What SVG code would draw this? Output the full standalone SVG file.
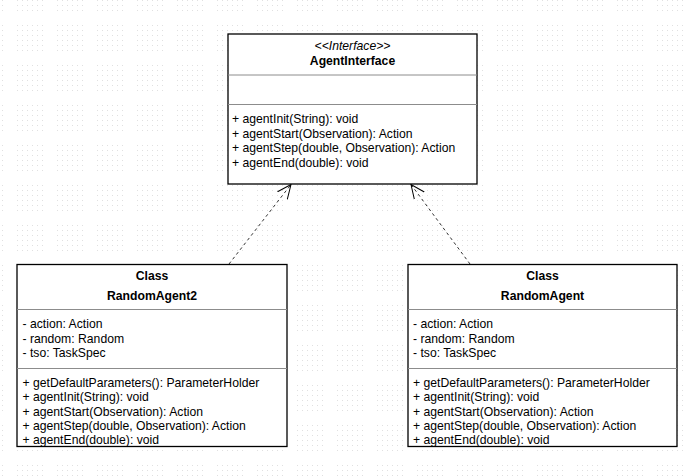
<svg xmlns="http://www.w3.org/2000/svg" width="694" height="476" viewBox="0 0 694 476">
<defs>
<pattern id="dot" width="5" height="5" patternUnits="userSpaceOnUse">
<rect x="2" y="2" width="1" height="1" fill="#e0e0e0"/>
</pattern>
<pattern id="grid" width="40" height="40" patternUnits="userSpaceOnUse" x="15" y="23">
<rect x="0" y="0" width="30" height="30" fill="url(#dot)"/>
</pattern>
<marker id="open" markerUnits="userSpaceOnUse" markerWidth="20" markerHeight="20" refX="14" refY="7" orient="auto">
<path d="M0,0.8 L14,7 L0,13.2" fill="none" stroke="#000" stroke-width="1"/>
</marker>
<style>
.box{fill:#fff;stroke:#000;stroke-width:1.3}
.div{stroke:#8c8c8c;stroke-width:1}
text{font-family:"Liberation Sans",Arial,sans-serif;font-size:12.2px;fill:#000}
.t{font-weight:bold;text-anchor:middle}
.st{font-style:italic;text-anchor:middle}
.edge{fill:none;stroke:#333;stroke-width:1;stroke-dasharray:3,3;marker-end:url(#open)}
</style>
</defs>
<rect width="694" height="476" fill="#fff"/>
<rect width="694" height="476" fill="url(#grid)"/>

<g id="connectors">
<line class="edge" x1="229" y1="264" x2="291" y2="184.5"/>
<line class="edge" x1="470" y1="264" x2="411" y2="184.5"/>
</g>

<g id="AgentInterface">
<rect class="box" x="228" y="34" width="249" height="150"/>
<line class="div" x1="228" y1="75" x2="477" y2="75"/>
<line class="div" x1="228" y1="104.5" x2="477" y2="104.5"/>
<text class="st" x="352.5" y="50">&lt;&lt;Interface&gt;&gt;</text>
<text class="t" x="352.5" y="65">AgentInterface</text>
<text x="232" y="123">+ agentInit(String): void</text>
<text x="232" y="137.6">+ agentStart(Observation): Action</text>
<text x="232" y="152.2">+ agentStep(double, Observation): Action</text>
<text x="232" y="166.8">+ agentEnd(double): void</text>
</g>

<g id="RandomAgent2">
<rect class="box" x="17" y="264.5" width="270" height="182"/>
<line class="div" x1="17" y1="309.5" x2="287" y2="309.5"/>
<line class="div" x1="17" y1="368.5" x2="287" y2="368.5"/>
<text class="t" x="152" y="280">Class</text>
<text class="t" x="152" y="300">RandomAgent2</text>
<text x="22.5" y="328">- action: Action</text>
<text x="22.5" y="342.6">- random: Random</text>
<text x="22.5" y="357.2">- tso: TaskSpec</text>
<text x="22.5" y="386.5">+ getDefaultParameters(): ParameterHolder</text>
<text x="22.5" y="401">+ agentInit(String): void</text>
<text x="22.5" y="415.5">+ agentStart(Observation): Action</text>
<text x="22.5" y="430">+ agentStep(double, Observation): Action</text>
<text x="22.5" y="443.5">+ agentEnd(double): void</text>
</g>

<g id="RandomAgent">
<rect class="box" x="408" y="264.5" width="269" height="182"/>
<line class="div" x1="408" y1="309.5" x2="677" y2="309.5"/>
<line class="div" x1="408" y1="368.5" x2="677" y2="368.5"/>
<text class="t" x="542.5" y="280">Class</text>
<text class="t" x="542.5" y="300">RandomAgent</text>
<text x="413" y="328">- action: Action</text>
<text x="413" y="342.6">- random: Random</text>
<text x="413" y="357.2">- tso: TaskSpec</text>
<text x="413" y="386.5">+ getDefaultParameters(): ParameterHolder</text>
<text x="413" y="401">+ agentInit(String): void</text>
<text x="413" y="415.5">+ agentStart(Observation): Action</text>
<text x="413" y="430">+ agentStep(double, Observation): Action</text>
<text x="413" y="443.5">+ agentEnd(double): void</text>
</g>
</svg>
